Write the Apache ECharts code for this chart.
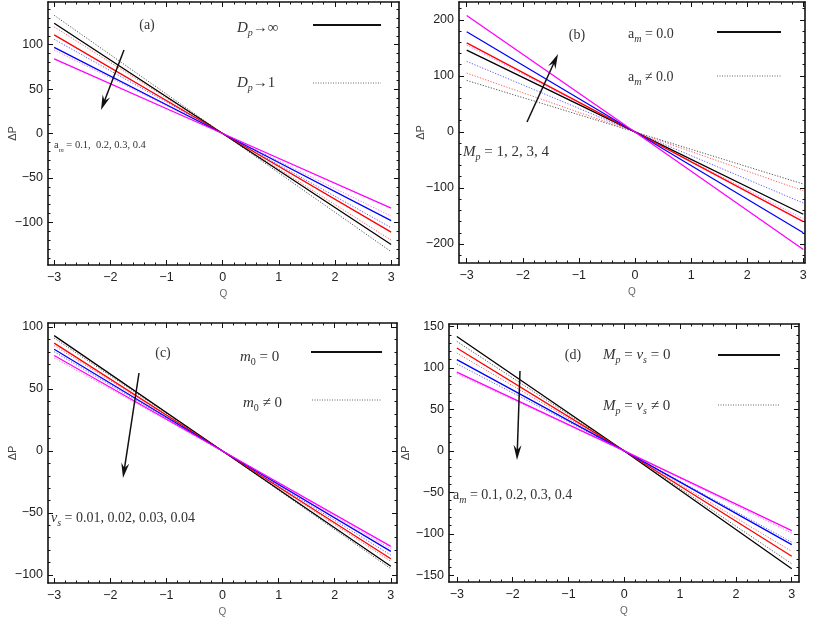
<!DOCTYPE html>
<html><head><meta charset="utf-8">
<script src="https://cdn.jsdelivr.net/npm/echarts@6/dist/echarts.min.js"></script>
<style>html,body{margin:0;padding:0;background:#fff}#c{width:813px;height:619px}</style>
</head><body><div id="c"></div>
<script>
// ---------- data ----------
const Q = [-3, 0, 3];
const colorsSolid = ['#000000', '#ff0000', '#0000ff', '#ff00ff']; // order of curves
const xTicks = [-3, -2, -1, 0, 1, 2, 3];

// panel (a): a_m = 0.1..0.4 ; solid D_p->inf, dotted D_p->1
const aSolidAtMinus3 = [124, 111, 97, 84];
const aSolidAt3 = [-125, -111, -98, -84];
const aDottedAtMinus3 = [133, 120, 106, 94];
const aDottedAt3 = [-133, -120, -106, -93];
const aYTicks = [-100, -50, 0, 50, 100];

// panel (b): M_p = 1..4 ; solid a_m = 0, dotted a_m != 0
const bSolidAtMinus3 = [146, 159, 179, 208];
const bSolidAt3 = [-147, -160, -180, -210];
const bDottedAtMinus3 = [92, 105, 126, 155];
const bDottedAt3 = [-93, -105, -127, -155];
const bYTicks = [-200, -100, 0, 100, 200];

// panel (c): v_s = 0.01..0.04 ; solid m0 = 0, dotted m0 != 0
const cSolidAtMinus3 = [93, 87, 82, 77];
const cSolidAt3 = [-93, -87, -81, -77];
const cDottedAtMinus3 = [91, 85, 80, 75];
const cDottedAt3 = [-95, -89, -84, -79];
const cYTicks = [-100, -50, 0, 50, 100];

// panel (d): a_m = 0.1..0.4 ; solid Mp=vs=0, dotted Mp=vs!=0
const dSolidAtMinus3 = [138, 124, 110, 95];
const dSolidAt3 = [-142, -127, -113, -96];
const dDottedAtMinus3 = [132, 118, 105, 93];
const dDottedAt3 = [-136, -121, -110, -99];
const dYTicks = [-150, -100, -50, 0, 50, 100, 150];

// ---------- layout ----------
const SANS = '"Liberation Sans", Arial, sans-serif';
const SERIF = '"Liberation Serif", "Times New Roman", serif';
const colorsDotted = ['#555555', '#ff5a5a', '#5a5aff', '#ff6aff'];

const panels = [
  {grid:{left:48, top:2, width:351, height:263}, x:[-3.11, 3.14], y:[-148, 148], yt:aYTicks, ym:10, ygap:30,
   s:[aSolidAtMinus3, aSolidAt3], d:[aDottedAtMinus3, aDottedAt3]},
  {grid:{left:459, top:2, width:346, height:261}, x:[-3.137, 3.03], y:[-234, 232], yt:bYTicks, ym:20, ygap:33,
   s:[bSolidAtMinus3, bSolidAt3], d:[bDottedAtMinus3, bDottedAt3]},
  {grid:{left:48, top:323, width:349, height:260}, x:[-3.11, 3.11], y:[-106.5, 103.2], yt:cYTicks, ym:10, ygap:30,
   s:[cSolidAtMinus3, cSolidAt3], d:[cDottedAtMinus3, cDottedAt3]},
  {grid:{left:449, top:324, width:350, height:258}, x:[-3.14, 3.13], y:[-158, 153], yt:dYTicks, ym:10, ygap:38,
   s:[dSolidAtMinus3, dSolidAt3], d:[dDottedAtMinus3, dDottedAt3]}
];

function minorVals(lo, hi, step, majors) {
  const out = [];
  const start = Math.ceil(lo / step) * step;
  for (let v = start; v <= hi + 1e-9; v += step) {
    const r = Math.round(v * 1000) / 1000;
    if (!majors.some(m => Math.abs(m - r) < 1e-6)) out.push(r);
  }
  return out;
}
const fmt = v => (v < 0 ? '\u2212' + Math.abs(v) : String(v));

const grids = [], xAxes = [], yAxes = [], series = [];
panels.forEach((p, gi) => {
  grids.push(Object.assign({outerBoundsMode: 'none', containLabel: false}, p.grid));
  const xMinor = minorVals(p.x[0], p.x[1], 0.2, xTicks);
  const yMinor = minorVals(p.y[0], p.y[1], p.ym, p.yt);
  const lineOn = {show: true, onZero: false, lineStyle: {color: '#111', width: 1.6}};
  const off = {show: false, onZero: false};
  const xb = {type: 'value', gridIndex: gi, min: p.x[0], max: p.x[1], splitLine: {show: false}, axisPointer: {show: false}, silent: true};
  xAxes.push(Object.assign({}, xb, {position: 'bottom', axisLine: lineOn,
    axisTick: {show: true, inside: true, length: 5, customValues: xTicks, lineStyle: {color: '#111'}},
    axisLabel: {show: true, customValues: xTicks, formatter: fmt, fontFamily: SANS, fontSize: 12.5, color: '#222', margin: 6},
    name: 'Q', nameLocation: 'middle', nameGap: 24, nameMoveOverlap: false,
    nameTextStyle: {fontFamily: SANS, fontSize: 10, color: '#666'}}));
  xAxes.push(Object.assign({}, xb, {position: 'bottom', axisLine: off,
    axisTick: {show: true, inside: true, length: 2.5, customValues: xMinor, lineStyle: {color: '#111'}}, axisLabel: {show: false}}));
  xAxes.push(Object.assign({}, xb, {position: 'top', axisLine: lineOn,
    axisTick: {show: true, inside: true, length: 5, customValues: xTicks, lineStyle: {color: '#111'}}, axisLabel: {show: false}}));
  xAxes.push(Object.assign({}, xb, {position: 'top', axisLine: off,
    axisTick: {show: true, inside: true, length: 2.5, customValues: xMinor, lineStyle: {color: '#111'}}, axisLabel: {show: false}}));
  const yb = {type: 'value', gridIndex: gi, min: p.y[0], max: p.y[1], splitLine: {show: false}, axisPointer: {show: false}, silent: true};
  yAxes.push(Object.assign({}, yb, {position: 'left', axisLine: lineOn,
    axisTick: {show: true, inside: true, length: 5, customValues: p.yt, lineStyle: {color: '#111'}},
    axisLabel: {show: true, customValues: p.yt, formatter: fmt, fontFamily: SANS, fontSize: 12.5, color: '#222', margin: 5},
    name: '\u0394P', nameLocation: 'middle', nameGap: p.ygap, nameRotate: 90, nameMoveOverlap: false,
    nameTextStyle: {fontFamily: SANS, fontSize: 11, color: '#444'}}));
  yAxes.push(Object.assign({}, yb, {position: 'left', axisLine: off,
    axisTick: {show: true, inside: true, length: 2.5, customValues: yMinor, lineStyle: {color: '#111'}}, axisLabel: {show: false}}));
  yAxes.push(Object.assign({}, yb, {position: 'right', axisLine: lineOn,
    axisTick: {show: true, inside: true, length: 5, customValues: p.yt, lineStyle: {color: '#111'}}, axisLabel: {show: false}}));
  yAxes.push(Object.assign({}, yb, {position: 'right', axisLine: off,
    axisTick: {show: true, inside: true, length: 2.5, customValues: yMinor, lineStyle: {color: '#111'}}, axisLabel: {show: false}}));

  for (let k = 0; k < 4; k++) {
    series.push({type: 'line', xAxisIndex: gi * 4, yAxisIndex: gi * 4, symbol: 'none', silent: true, animation: false,
      data: [[Q[0], p.d[0][k]], [Q[1], 0], [Q[2], p.d[1][k]]],
      lineStyle: {color: colorsDotted[k], width: 1, type: [1.2, 1.6]}, z: 2});
  }
  for (let k = 0; k < 4; k++) {
    series.push({type: 'line', xAxisIndex: gi * 4, yAxisIndex: gi * 4, symbol: 'none', silent: true, animation: false,
      data: [[Q[0], p.s[0][k]], [Q[1], 0], [Q[2], p.s[1][k]]],
      lineStyle: {color: colorsSolid[k], width: 1.3}, z: 3});
  }
});

// ---------- annotations ----------
const TXT = '#333';
function richSet(size) {
  return {
    n: {fontFamily: SERIF, fontSize: size, fill: TXT, color: TXT, lineHeight: size + 6},
    i: {fontFamily: SERIF, fontSize: size, fontStyle: 'italic', fill: TXT, color: TXT, lineHeight: size + 6},
    s: {fontFamily: SERIF, fontSize: Math.round(size * 0.68), fill: TXT, color: TXT, verticalAlign: 'bottom'},
    si: {fontFamily: SERIF, fontSize: Math.round(size * 0.68), fontStyle: 'italic', fill: TXT, color: TXT, verticalAlign: 'bottom'}
  };
}
function label(x, y, text, size, align) {
  return {type: 'text', silent: true, z: 10, style: {x: x, y: y, text: text, rich: richSet(size),
    textAlign: align || 'left', textVerticalAlign: 'middle', font: size + 'px ' + SERIF, fill: TXT}};
}
function hline(x1, x2, y, dotted) {
  return {type: 'line', silent: true, z: 10, shape: {x1: x1, y1: y, x2: x2, y2: y},
    style: dotted ? {stroke: '#666', lineWidth: 1, lineDash: [1, 1.5]} : {stroke: '#111', lineWidth: 2}};
}
function arrow(x1, y1, x2, y2) {
  const dx = x2 - x1, dy = y2 - y1, L = Math.hypot(dx, dy), ux = dx / L, uy = dy / L;
  const hl = 15, hw = 4;
  const bx = x2 - ux * hl, by = y2 - uy * hl;
  return [
    {type: 'line', silent: true, z: 10, shape: {x1: x1, y1: y1, x2: x2 - ux * 8, y2: y2 - uy * 8}, style: {stroke: '#111', lineWidth: 1.5}},
    {type: 'polygon', silent: true, z: 10, shape: {points: [[x2, y2], [bx - uy * hw, by + ux * hw], [x2 - ux * 10, y2 - uy * 10], [bx + uy * hw, by - ux * hw]]}, style: {fill: '#111'}}
  ];
}

const graphic = [
  // (a)
  label(147, 25, '{n|(a)}', 14, 'center'),
  label(237, 28, '{i|D}{si|p}{n|\u2192\u221e}', 15),
  label(237, 83, '{i|D}{si|p}{n|\u21921}', 15),
  hline(313, 381, 25, false), hline(313, 381, 83, true),
  label(54, 145, '{n|a}{si|m}{n| = 0.1,  0.2, 0.3, 0.4}', 10.5),
  ...arrow(124, 50, 101, 110),
  // (b)
  label(577, 35, '{n|(b)}', 14, 'center'),
  label(628, 34, '{n|a}{si|m}{n| = 0.0}', 14),
  label(628, 77, '{n|a}{si|m}{n| \u2260 0.0}', 14),
  hline(717, 781, 32, false), hline(717, 781, 76, true),
  label(463, 152, '{i|M}{si|p}{n| = 1, 2, 3, 4}', 15),
  ...arrow(527, 122, 558, 54),
  // (c)
  label(163, 353, '{n|(c)}', 14, 'center'),
  label(240, 357, '{i|m}{s|0}{n| = 0}', 15),
  label(243, 403, '{i|m}{s|0}{n| \u2260 0}', 15),
  hline(311, 382, 352, false), hline(312, 382, 400, true),
  label(51, 518, '{i|v}{si|s}{n| = 0.01, 0.02, 0.03, 0.04}', 14),
  ...arrow(139, 373, 123, 478),
  // (d)
  label(573, 355, '{n|(d)}', 14, 'center'),
  label(603, 355, '{i|M}{si|p}{n| = }{i|v}{si|s}{n| = 0}', 15),
  label(603, 406, '{i|M}{si|p}{n| = }{i|v}{si|s}{n| \u2260 0}', 15),
  hline(718, 780, 355, false), hline(718, 780, 405, true),
  label(453, 495, '{n|a}{si|m}{n| = 0.1, 0.2, 0.3, 0.4}', 14),
  ...arrow(520, 371, 517, 460)
];

const chart = echarts.init(document.getElementById('c'), null, {renderer: 'canvas'});
chart.setOption({
  animation: false,
  backgroundColor: '#ffffff',
  grid: grids, xAxis: xAxes, yAxis: yAxes, series: series, graphic: graphic
});
</script></body></html>
